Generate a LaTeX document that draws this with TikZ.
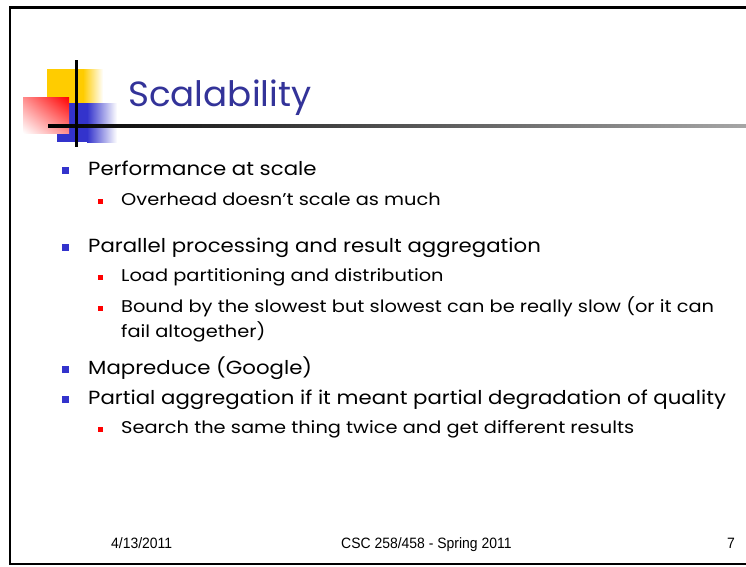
\documentclass[tikz,border=0pt]{standalone}
\usepackage{fontspec}
\usetikzlibrary{shadings}
\setmainfont{Poppins}
\newfontfamily\mainf[FakeStretch=1.12]{Poppins}
\newfontfamily\subf[FakeStretch=1.14]{Poppins}
\newfontfamily\titf[FakeStretch=1.02]{Poppins}
\newfontfamily\footfont[FakeStretch=0.93]{Liberation Sans}
\definecolor{ttl}{RGB}{51,51,153}
\definecolor{bblue}{RGB}{51,51,204}
\definecolor{lyel}{RGB}{255,204,0}
\definecolor{lred}{RGB}{255,0,0}
\begin{document}
\begin{tikzpicture}[x=1pt,y=1pt,
  main/.style={anchor=base west,inner sep=0pt,font=\mainf\fontsize{19}{22}\selectfont},
  subt/.style={anchor=base west,inner sep=0pt,font=\subf\fontsize{17}{19}\selectfont},
  bulA/.style={fill=bblue,inner sep=0pt,minimum size=7pt,anchor=center},
  bulB/.style={fill=lred,inner sep=0pt,minimum size=5pt,anchor=center},
  foot/.style={anchor=base west,inner sep=0pt,font=\footfont\fontsize{15}{17}\selectfont}]
\useasboundingbox (0,0) rectangle (746,-566);
\fill[white] (0,0) rectangle (746,-566);
% frame
\draw[line width=2.5pt] (746,-7.5) -- (10,-7.5) -- (10,-564) -- (746,-564);
% logo
\fill[lyel] (47,-69) rectangle (83,-103);
\shade[left color=lyel,right color=white] (83,-69) rectangle (103,-103);
\fill[bblue] (57,-103) rectangle (87,-142);
\shade[left color=bblue,right color=white] (87,-103) rectangle (117,-142);
\shade[upper right=lred,lower left=white,upper left=lred!45!white,lower right=lred!45!white] (23,-97) rectangle (69,-133);
\shade[left color=black,right color=black!35] (48,-124.5) rectangle (746,-127.5);
\draw[line width=3pt] (76,-60) -- (76,-147);
% title
\node[anchor=base west,inner sep=0pt,text=ttl,font=\titf\fontsize{35}{40}\selectfont] (title) at (128,-106) {Scalability};
% bullets
\node[bulA] (p1) at (65.5,-170) {};
\node[main] (t1) at (88,-175) {Performance at scale};
\node[bulB] (p2) at (100.5,-201.5) {};
\node[subt] (t2) at (121,-205) {Overhead doesn’t scale as much};
\node[bulA] (p3) at (65.5,-247) {};
\node[main] (t3) at (88,-252) {Parallel processing and result aggregation};
\node[bulB] (p4) at (100.5,-277.5) {};
\node[subt] (t4) at (121,-281) {Load partitioning and distribution};
\node[bulB] (p5) at (100.5,-308.5) {};
\node[subt] (t5) at (121,-312) {Bound by the slowest but slowest can be really slow (or it can};
\node[subt] (t5b) at (121,-337) {fail altogether)};
\node[bulA] (p6) at (65.5,-369) {};
\node[main] (t6) at (88,-374) {Mapreduce (Google)};
\node[bulA] (p7) at (65.5,-399) {};
\node[main] (t7) at (88,-404) {Partial aggregation if it meant partial degradation of quality};
\node[bulB] (p8) at (100.5,-429.5) {};
\node[subt] (t8) at (121,-433) {Search the same thing twice and get different results};
% footer
\node[foot] (f1) at (111,-548) {4/13/2011};
\node[foot] (f2) at (341,-548) {CSC 258/458 - Spring 2011};
\node[foot] (f3) at (727,-548) {7};
\end{tikzpicture}
\end{document}
